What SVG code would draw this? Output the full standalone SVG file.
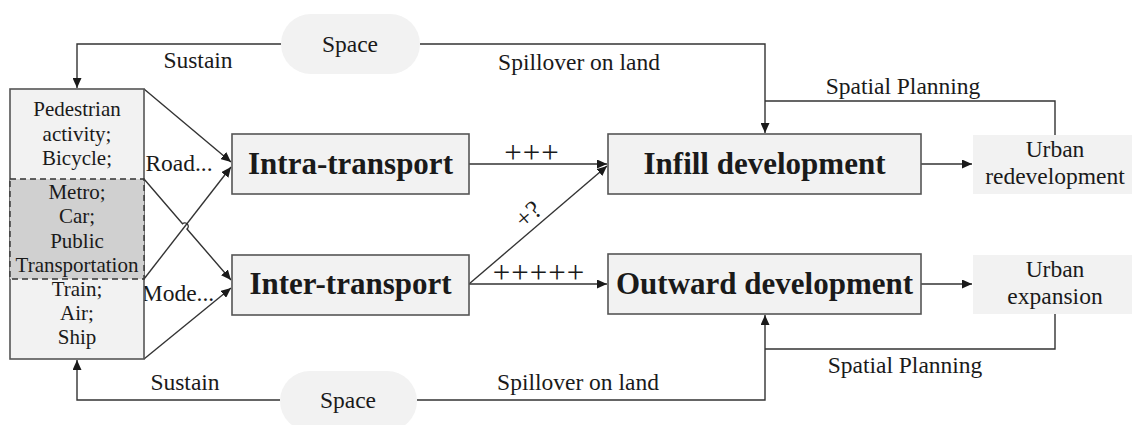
<svg xmlns="http://www.w3.org/2000/svg" width="1132" height="425" viewBox="0 0 1132 425">
<defs>
<marker id="ah" markerUnits="userSpaceOnUse" markerWidth="11" markerHeight="9" refX="10" refY="4.5" orient="auto">
<path d="M0,0 L10,4.5 L0,9 z" fill="#1a1a1a"/>
</marker>
</defs>
<style>
text{font-family:"Liberation Serif","Times New Roman",serif;fill:#1a1a1a;text-anchor:middle}
.t{font-size:23.5px}
.s{font-size:21px}
.b{font-size:31px;font-weight:bold}
.p{font-size:31px;letter-spacing:1px}
.box{fill:#f2f2f2;stroke:#555;stroke-width:1.6}
.pill{fill:#f2f2f2}
.ln{fill:none;stroke:#333;stroke-width:1.4}
.ar{fill:none;stroke:#333;stroke-width:1.4;marker-end:url(#ah)}
</style>
<rect width="1132" height="425" fill="#ffffff"/>

<g id="connectors">
<path class="ar" d="M281,44 H77 V88"/>
<path class="ar" d="M420,44 H765 V133"/>
<path class="ln" d="M1055,135 V101 H765"/>
<path class="ar" d="M280,400 H77 V360"/>
<path class="ar" d="M417,400 H765 V315"/>
<path class="ln" d="M1055,314 V349 H765"/>
<path class="ar" d="M921,164 H972"/>
<path class="ar" d="M921,284 H972"/>
<path class="ar" d="M469,164 H607"/>
<path class="ar" d="M469,284 H607"/>
<path class="ar" d="M469,284 L607,166"/>
<path class="ar" d="M144,89 L231,162"/>
<path class="ar" d="M144,279 L231,167"/>
<path class="ar" d="M144,179 L182.5,223.7 A3,3 0 0 1 187,229 L231,280"/>
<path class="ar" d="M144,359 L231,288"/>
</g>

<g id="labels">
<text class="t" x="198" y="68">Sustain</text>
<text class="t" x="579" y="70">Spillover on land</text>
<text class="t" x="903" y="94">Spatial Planning</text>
<text class="t" x="185" y="390">Sustain</text>
<text class="t" x="578" y="390">Spillover on land</text>
<text class="t" x="905" y="373">Spatial Planning</text>
<text class="t" x="179" y="171">Road...</text>
<text class="t" x="178" y="301">Mode...</text>
<text class="p" x="532" y="163">+++</text>
<text class="p" x="539" y="283">+++++</text>
<text class="t" style="font-size:26px" transform="translate(528,214) rotate(-41)" x="0" y="9">+?</text>
</g>

<g id="space-top">
<rect class="pill" x="281" y="14" width="139" height="60" rx="30"/>
<text class="t" x="350" y="52">Space</text>
</g>
<g id="space-bottom">
<rect class="pill" x="280" y="371" width="137" height="60" rx="30"/>
<text class="t" x="348" y="408">Space</text>
</g>

<g id="modes">
<rect x="10" y="89" width="134" height="270" fill="#f2f2f2" stroke="#555" stroke-width="1.6"/>
<rect x="10" y="179" width="134" height="100" fill="#d0d0d0" stroke="#333" stroke-width="1.4" stroke-dasharray="6,4"/>
<text class="s" x="77" y="116">Pedestrian</text>
<text class="s" x="77" y="141">activity;</text>
<text class="s" x="77" y="165">Bicycle;</text>
<text class="s" x="77" y="199">Metro;</text>
<text class="s" x="77" y="223">Car;</text>
<text class="s" x="77" y="248">Public</text>
<text class="s" x="77" y="272">Transportation</text>
<text class="s" x="77" y="296">Train;</text>
<text class="s" x="77" y="320">Air;</text>
<text class="s" x="77" y="344">Ship</text>
</g>

<g id="intra">
<rect class="box" x="232" y="134" width="237" height="60"/>
<text class="b" x="350.5" y="174">Intra-transport</text>
</g>
<g id="inter">
<rect class="box" x="232" y="255" width="237" height="60"/>
<text class="b" x="350.5" y="294">Inter-transport</text>
</g>
<g id="infill">
<rect class="box" x="608" y="134" width="313" height="60"/>
<text class="b" x="764.5" y="174">Infill development</text>
</g>
<g id="outward">
<rect class="box" x="608" y="254" width="313" height="60"/>
<text class="b" x="764.5" y="294">Outward development</text>
</g>
<g id="redevelopment">
<rect x="973" y="135" width="159" height="59" fill="#f2f2f2"/>
<text class="t" x="1055" y="157">Urban</text>
<text class="t" x="1055" y="184">redevelopment</text>
</g>
<g id="expansion">
<rect x="973" y="255" width="159" height="59" fill="#f2f2f2"/>
<text class="t" x="1055" y="277">Urban</text>
<text class="t" x="1055" y="304">expansion</text>
</g>
</svg>
